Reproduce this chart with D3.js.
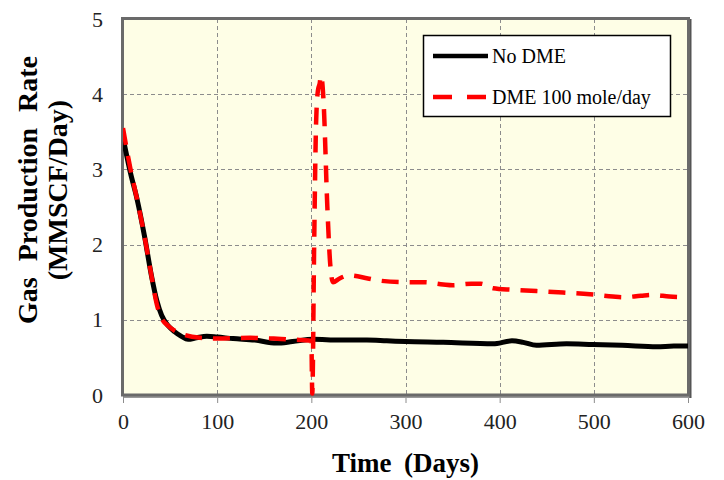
<!DOCTYPE html>
<html>
<head>
<meta charset="utf-8">
<script src="https://cdn.jsdelivr.net/npm/d3@7"></script>
<style>
  html, body { margin: 0; padding: 0; background: #fff; }
  svg { display: block; }
</style>
</head>
<body>
<svg id="chart" width="724" height="480"></svg>
<script>
// ---- Data ----
const xTicks = [0, 100, 200, 300, 400, 500, 600];
const yTicks = [0, 1, 2, 3, 4, 5];
const seriesNames = ["No DME", "DME 100 mole/day"];

const noDmeDays = [0, 8, 15, 23, 30, 36, 41, 48, 55, 62, 69, 78, 89, 100, 117, 140, 163, 180, 202, 230, 259, 280, 300, 340, 393, 413, 425, 439, 471, 499, 530, 567, 585, 600];
const noDmeRate = [3.42, 2.95, 2.6, 2.1, 1.6, 1.25, 1.06, 0.92, 0.84, 0.78, 0.74, 0.76, 0.78, 0.77, 0.75, 0.73, 0.69, 0.71, 0.74, 0.73, 0.73, 0.72, 0.71, 0.70, 0.68, 0.72, 0.70, 0.66, 0.68, 0.67, 0.66, 0.64, 0.65, 0.65];

const dmeDays = [0, 8, 15, 23, 30, 36, 41, 48, 57, 65, 82, 100, 135, 160, 174, 190, 200, 201, 203, 205, 207, 209, 210, 211, 213, 217, 220, 223, 230, 240, 260, 273, 300, 320, 340, 350, 370, 380, 393, 414, 457, 496, 520, 531, 550, 563, 580, 600];
const dmeRate = [3.55, 3.0, 2.6, 2.1, 1.6, 1.2, 1.02, 0.92, 0.84, 0.80, 0.76, 0.75, 0.76, 0.75, 0.74, 0.73, 0.72, 0.02, 2.0, 3.6, 4.05, 4.15, 4.25, 4.22, 3.9, 2.5, 1.75, 1.5, 1.55, 1.59, 1.55, 1.52, 1.50, 1.50, 1.47, 1.46, 1.48, 1.48, 1.42, 1.40, 1.37, 1.34, 1.31, 1.30, 1.32, 1.33, 1.31, 1.30];

// ---- Layout ----
const svg = d3.select("#chart");
const pL = 123, pR = 688, pT = 19, pB = 395;
const x = d3.scaleLinear().domain([0, 600]).range([pL, pR]);
const y = d3.scaleLinear().domain([0, 5]).range([pB, pT]);
const serif = "'Liberation Serif', 'Times New Roman', serif";

// plot background
svg.append("rect").attr("x", pL).attr("y", pT)
  .attr("width", pR - pL).attr("height", pB - pT)
  .attr("fill", "#fefee6");

// grid lines
const grid = svg.append("g").attr("stroke", "#8c8c8c").attr("stroke-width", 1)
  .attr("stroke-dasharray", "4,3");
grid.selectAll(".gx").data(xTicks.filter(d => d > 0 && d < 600)).join("line")
  .attr("x1", d => Math.round(x(d)) + 0.5).attr("x2", d => Math.round(x(d)) + 0.5)
  .attr("y1", pT).attr("y2", pB);
grid.selectAll(".gy").data(yTicks.filter(d => d > 0 && d < 5)).join("line")
  .attr("y1", d => Math.round(y(d)) + 0.5).attr("y2", d => Math.round(y(d)) + 0.5)
  .attr("x1", pL).attr("x2", pR);

// x axis (ticks + labels)
const xAxis = d3.axisBottom(x).tickValues(xTicks).tickSize(7).tickPadding(10).tickFormat(d3.format("d"));
const gx = svg.append("g").attr("transform", `translate(0,${pB + 1})`).call(xAxis);
gx.select(".domain").remove();
gx.selectAll(".tick line").attr("stroke", "#8c8c8c");
gx.selectAll(".tick text").attr("font-family", serif).attr("font-size", 22).attr("fill", "#222");

// y axis labels
const yAxis = d3.axisLeft(y).tickValues(yTicks).tickSize(0).tickPadding(20).tickFormat(d3.format("d"));
const gy = svg.append("g").attr("transform", `translate(${pL},0)`).call(yAxis);
gy.select(".domain").remove();
gy.selectAll(".tick text").attr("font-family", serif).attr("font-size", 22).attr("fill", "#222");

// frame
svg.append("line").attr("x1", pL + 1).attr("x2", pR + 3).attr("y1", pB + 2).attr("y2", pB + 2)
  .attr("stroke", "#9a9a9a").attr("stroke-width", 2);
svg.append("line").attr("x1", pR + 2.5).attr("x2", pR + 2.5).attr("y1", pT).attr("y2", pB + 3)
  .attr("stroke", "#555").attr("stroke-width", 2);
svg.append("rect").attr("x", pL - 0.5).attr("y", pT - 0.5)
  .attr("width", pR - pL + 1).attr("height", pB - pT + 0.5)
  .attr("fill", "none").attr("stroke", "#6a6a6a").attr("stroke-width", 3);

// series
const line = d3.line().x(d => x(d[0])).y(d => y(d[1])).curve(d3.curveMonotoneX);
const noDme = noDmeDays.map((d, i) => [d, noDmeRate[i]]);
const dme = dmeDays.map((d, i) => [d, dmeRate[i]]);

svg.append("clipPath").attr("id", "clip").append("rect")
  .attr("x", pL).attr("y", pT).attr("width", pR - pL).attr("height", pB - pT + 1);

svg.append("path").datum(noDme).attr("d", line).attr("fill", "none")
  .attr("stroke", "#000").attr("stroke-width", 5).attr("stroke-linejoin", "round")
  .attr("clip-path", "url(#clip)");
svg.append("path").datum(dme).attr("d", line).attr("fill", "none")
  .attr("stroke", "#ff0000").attr("stroke-width", 4.5).attr("stroke-dasharray", "17,11")
  .attr("stroke-linejoin", "round").attr("clip-path", "url(#clip)");

// legend
const lg = svg.append("g");
lg.append("rect").attr("x", 423.5).attr("y", 35.5).attr("width", 247).attr("height", 81)
  .attr("fill", "#fff").attr("stroke", "#000").attr("stroke-width", 1.5);
const legendRows = [
  { name: seriesNames[0], color: "#000", dash: null, yy: 56 },
  { name: seriesNames[1], color: "#ff0000", dash: "19,15", yy: 97 }
];
legendRows.forEach(r => {
  lg.append("line").attr("x1", 433).attr("x2", 488).attr("y1", r.yy).attr("y2", r.yy)
    .attr("stroke", r.color).attr("stroke-width", 4.5).attr("stroke-dasharray", r.dash);
  lg.append("text").attr("x", 492).attr("y", r.yy + 7).attr("font-family", serif)
    .attr("font-size", 20).attr("fill", "#000").text(r.name);
});

// axis titles
svg.append("text").attr("x", (pL + pR) / 2).attr("y", 472).attr("text-anchor", "middle")
  .attr("font-family", serif).attr("font-weight", "bold").attr("font-size", 27)
  .attr("word-spacing", 6).attr("fill", "#000").text("Time (Days)");
const yt = svg.append("text").attr("transform", "translate(37,190) rotate(-90)")
  .attr("text-anchor", "middle").attr("font-family", serif).attr("font-weight", "bold")
  .attr("font-size", 28).attr("word-spacing", 9).attr("fill", "#000");
yt.append("tspan").attr("x", 0).attr("y", 0).text("Gas Production Rate");
yt.append("tspan").attr("x", 0).attr("y", 30).text("(MMSCF/Day)");
</script>
</body>
</html>
